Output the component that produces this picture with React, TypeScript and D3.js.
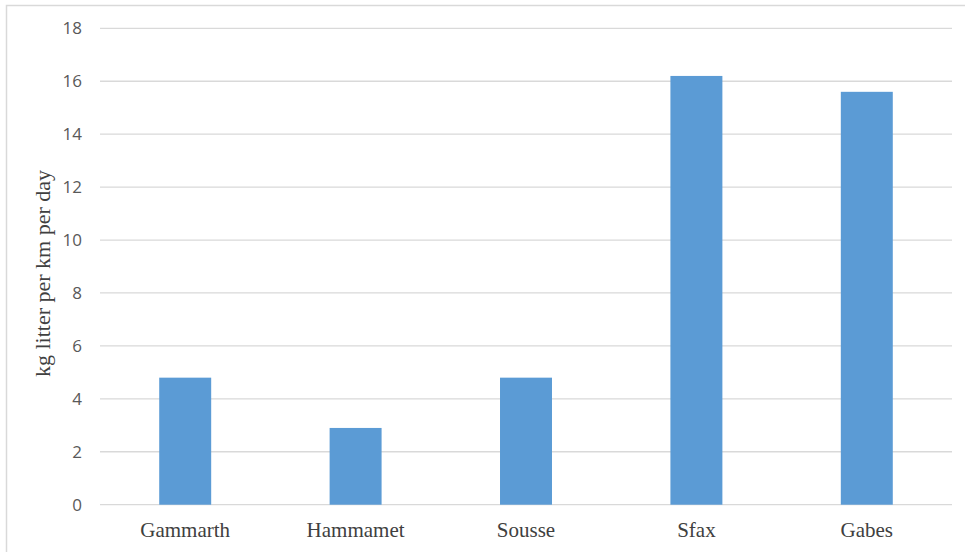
import React from "react";
import * as d3 from "d3";

const categories = ["Gammarth", "Hammamet", "Sousse", "Sfax", "Gabes"];
const values = [4.8, 2.9, 4.8, 16.2, 15.6];
const yTicks = [0, 2, 4, 6, 8, 10, 12, 14, 16, 18];
const yTitle = "kg litter per km per day";

const W = 965;
const H = 552;
const plot = { left: 100, right: 952, top: 28.3, bottom: 504.7 };

export default function App() {
  const x = d3
    .scaleBand<string>()
    .domain(categories)
    .range([plot.left, plot.right])
    .paddingInner(0.695)
    .paddingOuter(0.3475);
  const y = d3.scaleLinear().domain([0, 18]).range([plot.bottom, plot.top]);

  return (
    <svg
      width={W}
      height={H}
      style={{ position: "absolute", left: 0, top: 0, background: "#fff" }}
    >
      <rect x={6.5} y={5.5} width={W + 10} height={H + 10} fill="#fff" stroke="#d9d9d9" strokeWidth={1.5} />
      {yTicks.map((t) => (
        <g key={t}>
          <line
            x1={plot.left}
            x2={plot.right}
            y1={y(t)}
            y2={y(t)}
            stroke="#d9d9d9"
            strokeWidth={1.3}
          />
          <text
            x={82}
            y={y(t)}
            dy="0.36em"
            textAnchor="end"
            fontFamily="'Open Sans', 'Noto Sans', sans-serif"
            fontSize={17}
            fill="#595959"
          >
            {t}
          </text>
        </g>
      ))}
      {categories.map((c, i) => (
        <g key={c}>
          <rect
            x={x(c)}
            y={y(values[i])}
            width={x.bandwidth()}
            height={y(0) - y(values[i])}
            fill="#5b9bd5"
          />
          <text
            x={(x(c) as number) + x.bandwidth() / 2}
            y={537}
            textAnchor="middle"
            fontFamily="'Liberation Serif', 'Times New Roman', serif"
            fontSize={21}
            fill="#404040"
          >
            {c}
          </text>
        </g>
      ))}
      <text
        transform={`translate(50, ${(plot.top + plot.bottom) / 2 + 7}) rotate(-90)`}
        textAnchor="middle"
        fontFamily="'Liberation Serif', 'Times New Roman', serif"
        fontSize={22}
        fill="#404040"
      >
        {yTitle}
      </text>
    </svg>
  );
}
